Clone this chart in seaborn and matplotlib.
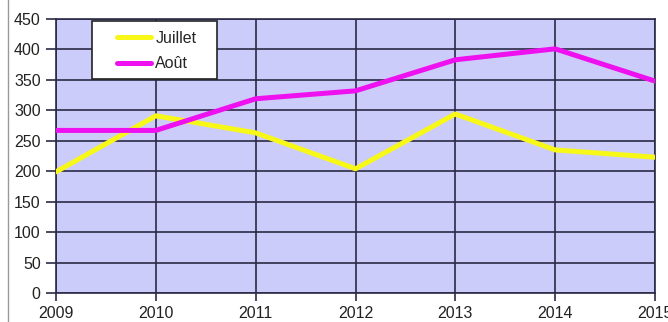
import matplotlib
matplotlib.use("Agg")
import matplotlib.pyplot as plt
import seaborn as sns
import pandas as pd
from matplotlib.lines import Line2D
from matplotlib.patches import Rectangle

years = [2009, 2010, 2011, 2012, 2013, 2014, 2015]
juillet = [199, 291, 263, 204, 294, 235, 223]
aout = [267, 267, 319, 332, 383, 401, 348]
series_names = ["Juillet", "Août"]
yticks = [0, 50, 100, 150, 200, 250, 300, 350, 400, 450]

df = pd.DataFrame({
    "Année": years * 2,
    "Valeur": juillet + aout,
    "Mois": [series_names[0]] * len(years) + [series_names[1]] * len(years),
})

sns.set_style("white")
plt.rcParams["font.family"] = ["Liberation Sans", "DejaVu Sans"]

fig = plt.figure(figsize=(6.68, 3.22), dpi=100)
ax = fig.add_axes([56/668, 29/322, 599/668, 274/322])
ax.set_facecolor("#CCCCFA")

sns.lineplot(data=df, x="Année", y="Valeur", hue="Mois",
             palette={"Juillet": "#F8F818", "Août": "#EE10EE"},
             linewidth=3.6, ax=ax, legend=True, zorder=3)

ax.set_xlim(2009, 2015)
ax.set_ylim(0, 450)
ax.set_xticks(years)
ax.set_yticks(yticks)
ax.grid(True, color="#2A2A45", linewidth=1.2, zorder=1)
ax.set_axisbelow(True)
for s in ax.spines.values():
    s.set_color("#2A2A45")
    s.set_linewidth(1.2)
ax.tick_params(axis="both", which="major", direction="out",
               width=1.2, color="#2A2A45", labelsize=11.5,
               left=True, bottom=True, labelcolor="#222222")
ax.tick_params(axis="x", length=6, pad=3)
ax.tick_params(axis="y", length=7, pad=4)
ax.set_xlabel("")
ax.set_ylabel("")

# legend box
ax.add_patch(Rectangle((0.060, 0.781), 0.2087, 0.2117, transform=ax.transAxes,
                       facecolor="white", edgecolor="#222222", linewidth=1.2,
                       zorder=4.5, clip_on=False))
leg = ax.legend(loc="upper left", bbox_to_anchor=(0.102, 0.957),
                frameon=False, fontsize=11.5,
                handlelength=2.1, borderpad=0, labelspacing=0.67,
                handletextpad=0.3, borderaxespad=0)
leg.set_zorder(5)
for l in leg.get_lines():
    l.set_linewidth(3.6)

fig.add_artist(Line2D([8/668, 8/668], [0, 1], transform=fig.transFigure,
                      color="#999999", linewidth=1))

fig.savefig("out.png", dpi=100)
